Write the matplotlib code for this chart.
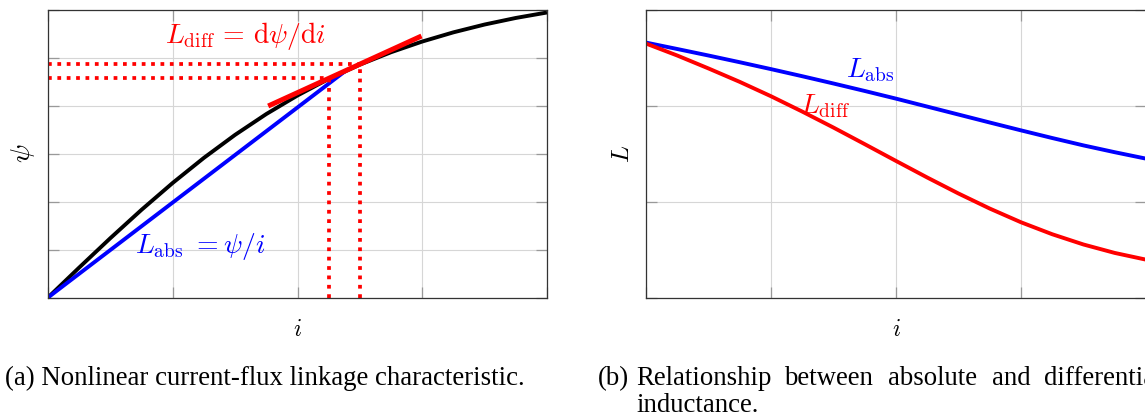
import matplotlib
matplotlib.use("Agg")
import matplotlib.pyplot as plt

plt.rcParams['mathtext.fontset'] = 'cm'

# ---------------- data ----------------
# (a) flux linkage characteristic psi(i)
cur = [0, 0.25, 0.5, 0.75, 1.0, 1.25, 1.5, 1.75, 2.0, 2.25, 2.5, 2.75, 3.0, 3.25, 3.5, 3.75, 4.0]
psi = [0, 0.625, 1.239, 1.831, 2.392, 2.915, 3.395, 3.829, 4.216, 4.562, 4.860, 5.119, 5.342,
       5.534, 5.697, 5.834, 5.948]
# secant (absolute inductance) line
abs_i = [0, 2.38]
abs_psi = [0, 4.72]
# tangent (differential inductance) line
tan_i = [1.765, 2.994]
tan_psi = [3.996, 5.457]
# dotted helper marks
mark_i = [2.254, 2.5]
mark_psi = [4.587, 4.866]

# (b) inductances vs current
cur_b = [0, 0.25, 0.5, 0.75, 1.0, 1.25, 1.5, 1.75, 2.0, 2.25, 2.5, 2.75, 3.0, 3.25, 3.5, 3.75, 4.0]
L_abs = [2.66, 2.593, 2.525, 2.455, 2.383, 2.309, 2.233, 2.155, 2.075, 1.992, 1.909, 1.826,
         1.744, 1.664, 1.587, 1.516, 1.449]
L_diff = [2.65, 2.525, 2.39, 2.25, 2.10, 1.94, 1.773, 1.600, 1.425, 1.252, 1.085, 0.928,
          0.785, 0.660, 0.553, 0.465, 0.395]

W, H = 1145, 416
fig = plt.figure(figsize=(W / 100, H / 100), dpi=100)

RED = '#ff0000'
BLUE = '#0000ff'
LW = 2.8


def px_axes(x0, x1, y0, y1):
    return fig.add_axes([x0 / W, 1 - y1 / H, (x1 - x0) / W, (y1 - y0) / H])


def style(ax, xmax, ymax):
    ax.set_xlim(0, xmax)
    ax.set_ylim(0, ymax)
    ax.set_xticks(range(0, xmax + 1))
    ax.set_yticks(range(0, ymax + 1))
    ax.tick_params(which='both', direction='in', length=7.7, width=0.9, color='#999999',
                   top=True, right=True, labelbottom=False, labelleft=False)
    ax.grid(True, color='#d6d6d6', linewidth=0.8)
    ax.set_axisbelow(True)
    for s in ax.spines.values():
        s.set_color('#333333')
        s.set_linewidth(0.9)
        s.set_zorder(5)


# ---------------- (a) ----------------
ax1 = px_axes(48, 547, 10, 297.5)
style(ax1, 4, 6)
ax1.plot(cur, psi, color='black', lw=LW, solid_capstyle='butt', solid_joinstyle='round', zorder=3)
ax1.plot(abs_i, abs_psi, color=BLUE, lw=LW, solid_capstyle='butt', zorder=3)
dot_kw = dict(color=RED, lw=2.7, linestyle=(0, (1.0, 1.5)), dash_capstyle='butt', zorder=4)
for xi, yi in zip(mark_i, mark_psi):
    ax1.plot([xi, xi], [0, yi], **dot_kw)
    ax1.plot([0, xi], [yi, yi], **dot_kw)
ax1.plot(tan_i, tan_psi, color=RED, lw=3.6, solid_capstyle='butt', zorder=4)
ax1.text(1.58, 5.45, r'$L_{\mathrm{diff}}\, =\, \mathrm{d}\psi/\mathrm{d}i$', color=RED,
         fontsize=20, ha='center', va='center')
ax1.text(1.22, 1.06, r'$L_{\mathrm{abs}}\ {=}\psi/i$', color=BLUE,
         fontsize=20, ha='center', va='center')
ax1.set_xlabel(r'$i$', fontsize=17, labelpad=14)
ax1.set_ylabel(r'$\psi$', fontsize=20, labelpad=8)

# ---------------- (b) ----------------
ax2 = px_axes(646, 1146, 10, 297.5)
style(ax2, 4, 3)
ax2.plot(cur_b, L_abs, color=BLUE, lw=LW, solid_capstyle='butt', solid_joinstyle='round', zorder=3)
ax2.plot(cur_b, L_diff, color=RED, lw=LW, solid_capstyle='butt', solid_joinstyle='round', zorder=3)
ax2.text(1.79, 2.37, r'$L_{\mathrm{abs}}$', color=BLUE, fontsize=20, ha='center', va='center')
ax2.text(1.43, 2.0, r'$L_{\mathrm{diff}}$', color=RED, fontsize=20, ha='center', va='center')
ax2.set_xlabel(r'$i$', fontsize=17, labelpad=14)
ax2.set_ylabel(r'$L$', fontsize=18, labelpad=9)

# ---------------- captions ----------------
cap_kw = dict(fontsize=19.3, family='Liberation Serif', va='baseline', ha='left')
fig.text(5 / W, 1 - 385 / H, '(a) Nonlinear current-flux linkage characteristic.', **cap_kw)
words = [('(b)', 598), ('Relationship', 636), ('between', 784), ('absolute', 888),
         ('and', 992), ('differential', 1044)]
for w, x in words:
    fig.text(x / W, 1 - 385 / H, w, **cap_kw)
fig.text(636 / W, 1 - 412 / H, 'inductance.', **cap_kw)

fig.savefig('out.png', dpi=100)
